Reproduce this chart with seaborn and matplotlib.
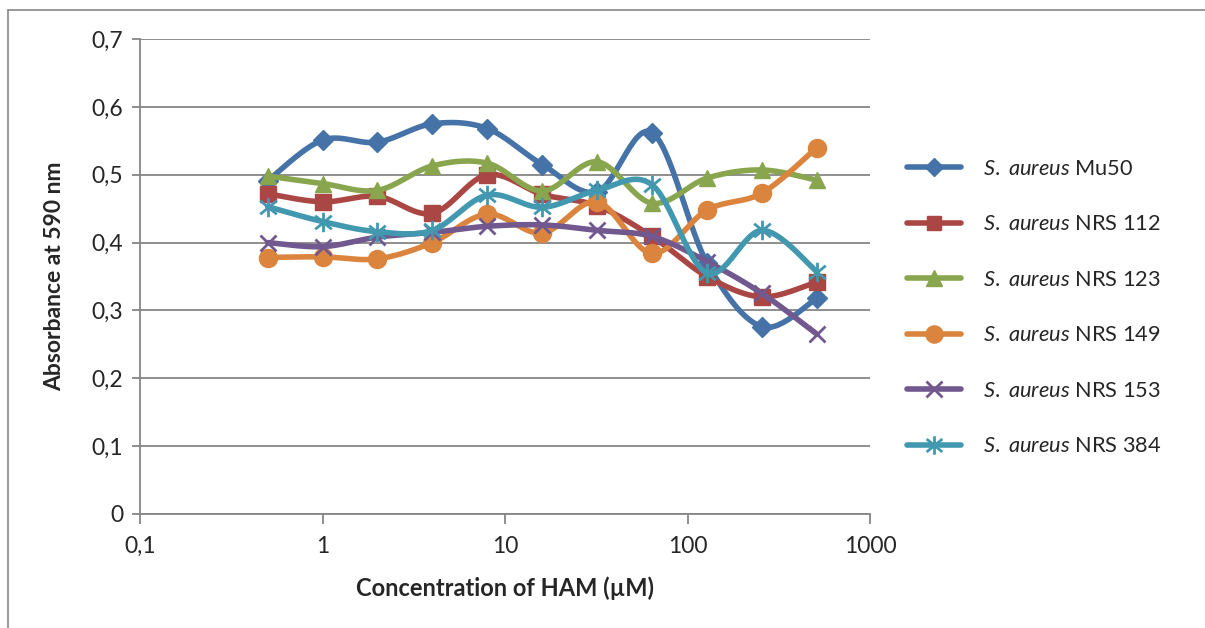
import numpy as np
import pandas as pd
import seaborn as sns
import matplotlib
matplotlib.use("Agg")
import matplotlib.pyplot as plt
from matplotlib.path import Path
from matplotlib.lines import Line2D
from matplotlib.ticker import FixedLocator, NullLocator

# ---------------- data ----------------
concentration = [0.5, 1, 2, 4, 8, 16, 32, 64, 128, 256, 512]
mu50 = [0.491, 0.551, 0.548, 0.575, 0.568, 0.515, 0.475, 0.562, 0.370, 0.276, 0.318]
nrs112 = [0.472, 0.460, 0.468, 0.443, 0.500, 0.471, 0.454, 0.409, 0.350, 0.320, 0.342]
nrs123 = [0.498, 0.487, 0.477, 0.513, 0.517, 0.476, 0.519, 0.458, 0.495, 0.507, 0.492]
nrs149 = [0.378, 0.379, 0.376, 0.400, 0.442, 0.414, 0.460, 0.384, 0.448, 0.473, 0.540]
nrs153 = [0.400, 0.394, 0.408, 0.415, 0.424, 0.426, 0.418, 0.409, 0.372, 0.325, 0.265]
nrs384 = [0.453, 0.431, 0.416, 0.418, 0.470, 0.452, 0.477, 0.485, 0.355, 0.418, 0.357]

strains = ["Mu50", "NRS 112", "NRS 123", "NRS 149", "NRS 153", "NRS 384"]
series = [mu50, nrs112, nrs123, nrs149, nrs153, nrs384]
x_ticks = [0.1, 1, 10, 100, 1000]
x_tick_labels = ["0,1", "1", "10", "100", "1000"]
y_ticks = [0, 0.1, 0.2, 0.3, 0.4, 0.5, 0.6, 0.7]
y_tick_labels = ["0", "0,1", "0,2", "0,3", "0,4", "0,5", "0,6", "0,7"]

colors = ["#4572A7", "#AA4643", "#89A54E", "#DB843D", "#71588F", "#4198AF"]

# star (asterisk) marker: vertical bar + X
star = Path([(0, -1), (0, 1), (-0.85, -0.7), (0.85, 0.7), (-0.85, 0.7), (0.85, -0.7)],
            [Path.MOVETO, Path.LINETO, Path.MOVETO, Path.LINETO, Path.MOVETO, Path.LINETO])
markers = ["D", "s", "^", "o", "x", star]
msizes = [10, 11, 12, 13, 12, 14]
mew = [1, 1, 1, 1, 2.0, 2.0]

# ---------------- style ----------------
sns.set_style("white")
plt.rcParams["font.family"] = ["Lato", "DejaVu Sans"]
plt.rcParams["mathtext.fontset"] = "custom"
plt.rcParams["mathtext.it"] = "Lato:italic"
plt.rcParams["mathtext.rm"] = "Lato"

W, H = 1205, 628
fig = plt.figure(figsize=(W / 100, H / 100), dpi=100)
ax = fig.add_axes([140 / W, (H - 514) / H, 730 / W, 475 / H])

grid_c = "#868686"


def catmull(xs, ys, steps=30):
    u = np.log10(np.asarray(xs, float))
    v = np.asarray(ys, float)
    P = np.column_stack([u, v])
    n = len(P)
    out = []
    for i in range(n - 1):
        p0 = P[i - 1] if i > 0 else P[i]
        p1 = P[i]
        p2 = P[i + 1]
        p3 = P[i + 2] if i + 2 < n else P[i + 1]
        b1 = p1 + (p2 - p0) / 6.0
        b2 = p2 - (p3 - p1) / 6.0
        t = np.linspace(0, 1, steps, endpoint=(i == n - 2))[:, None]
        seg = ((1 - t) ** 3) * p1 + 3 * ((1 - t) ** 2) * t * b1 + 3 * (1 - t) * t ** 2 * b2 + t ** 3 * p2
        out.append(seg)
    S = np.vstack(out)
    return 10 ** S[:, 0], S[:, 1]


handles = []
for k, (name, vals) in enumerate(zip(strains, series)):
    sx, sy = catmull(concentration, vals)
    curve = pd.DataFrame({"x": sx, "y": sy})
    sns.lineplot(data=curve, x="x", y="y", sort=False, estimator=None, ax=ax,
                 color=colors[k], linewidth=4.0, solid_capstyle="round", zorder=3 + 2 * k)
    pts = pd.DataFrame({"x": concentration, "y": vals})
    sns.lineplot(data=pts, x="x", y="y", ax=ax, estimator=None, linestyle="none",
                 marker=markers[k], markersize=msizes[k], color=colors[k],
                 markeredgecolor=colors[k], markeredgewidth=mew[k], zorder=4 + 2 * k)
    handles.append(Line2D([], [], color=colors[k], linewidth=4.0, solid_capstyle="round",
                          marker=markers[k], markersize=msizes[k] * 0.95,
                          markeredgecolor=colors[k], markeredgewidth=mew[k]))

ax.set_xscale("log")
ax.set_xlim(0.1, 1000)
ax.set_ylim(0, 0.7)
ax.xaxis.set_major_locator(FixedLocator(x_ticks))
ax.xaxis.set_minor_locator(NullLocator())
ax.set_xticklabels(x_tick_labels)
ax.yaxis.set_major_locator(FixedLocator(y_ticks))
ax.set_yticklabels(y_tick_labels)

ax.grid(axis="y", color=grid_c, linewidth=1.3)
ax.grid(axis="x", visible=False)
ax.set_axisbelow(True)
for s in ["top", "right"]:
    ax.spines[s].set_visible(False)
for s in ["left", "bottom"]:
    ax.spines[s].set_color(grid_c)
    ax.spines[s].set_linewidth(1.3)
ax.tick_params(axis="y", which="major", direction="out", length=6, width=1.3, color=grid_c,
               labelsize=16.5, pad=6, left=True)
ax.tick_params(axis="x", which="major", direction="out", length=7, width=1.3, color=grid_c,
               labelsize=16.5, pad=9, bottom=True)

ax.set_xlabel("Concentration of HAM (µM)", fontsize=17, fontweight="bold", labelpad=14)
ax.set_ylabel("Absorbance at 590 nm", fontsize=16.5, fontweight="bold", labelpad=19)

labels = [r"$\it{S.\ aureus}$ " + s for s in strains]
leg = fig.legend(handles, labels, loc="upper left", bbox_to_anchor=(898 / W, 1 - 150 / H),
                 frameon=False, fontsize=15.7, handlelength=2.5, handletextpad=1.0,
                 labelspacing=1.63, borderaxespad=0)

# outer chart border (top and left)
fig.add_artist(Line2D([8 / W, 8 / W], [0, 1 - 10 / H], transform=fig.transFigure,
                      color=grid_c, linewidth=1.2))
fig.add_artist(Line2D([8 / W, 1], [1 - 10 / H, 1 - 10 / H], transform=fig.transFigure,
                      color=grid_c, linewidth=1.2))

fig.savefig("out.png", dpi=100)
